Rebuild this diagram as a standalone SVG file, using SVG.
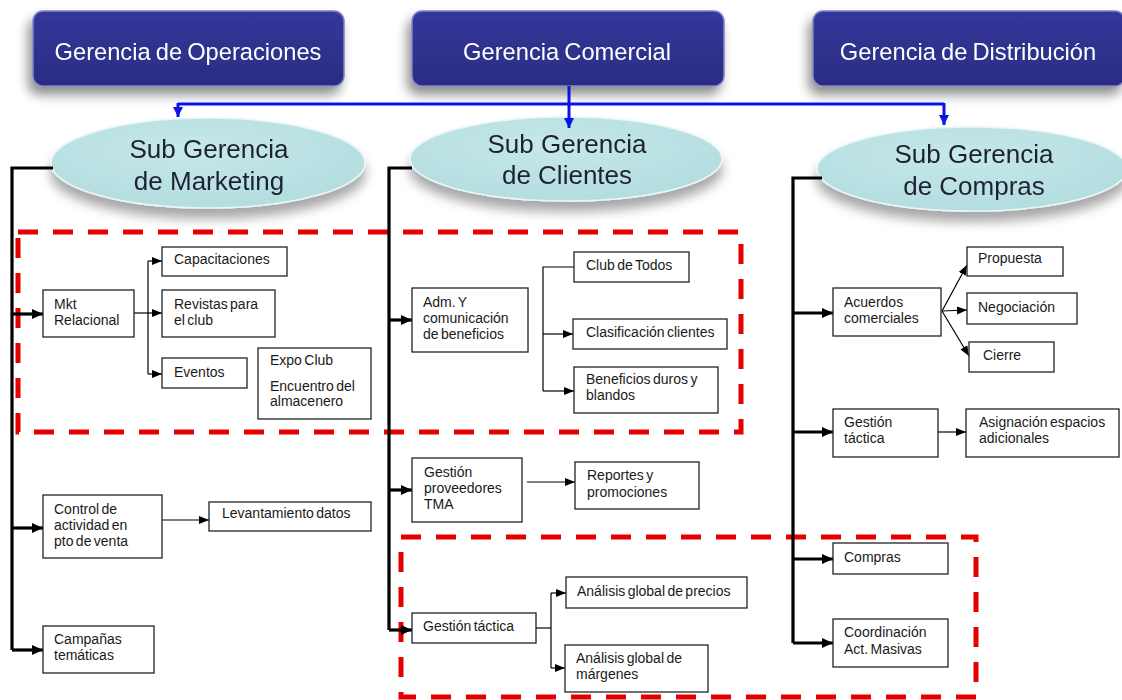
<svg xmlns="http://www.w3.org/2000/svg" width="1122" height="700" viewBox="0 0 1122 700">
<defs>
<style>
.gtext{font-family:"Liberation Sans",Arial,sans-serif;font-size:23.7px;fill:#ffffff;text-anchor:middle;word-spacing:-1.5px}
.etext{font-family:"Liberation Sans",Arial,sans-serif;font-size:26px;fill:#1e2230;text-anchor:middle}
.btext{font-family:"Liberation Sans",Arial,sans-serif;font-size:14px;fill:#1a1a1a;word-spacing:-1.5px}
.box{fill:#ffffff;stroke:#222222;stroke-width:1.3}
.thick{fill:none;stroke:#000000;stroke-width:3.2}
.thin{fill:none;stroke:#000000;stroke-width:1.2}
.blue{fill:none;stroke:#0a14e6;stroke-width:3}
.dash{fill:none;stroke:#e60000;stroke-width:5;stroke-dasharray:20 15}
.gbox{fill:url(#gradG);stroke:#7f83c8;stroke-width:1.5}
.ell{fill:url(#gradE);stroke:#e8f6f7;stroke-width:1.5}
</style>
<linearGradient id="gradG" x1="0" y1="0" x2="0" y2="1">
<stop offset="0" stop-color="#34389a"/>
<stop offset="1" stop-color="#2a2c82"/>
</linearGradient>
<radialGradient id="gradE" cx="0.45" cy="0.35" r="0.7">
<stop offset="0" stop-color="#c6e8ea"/>
<stop offset="1" stop-color="#b2dcdf"/>
</radialGradient>
<filter id="shadow" x="-20%" y="-30%" width="140%" height="170%">
<feGaussianBlur in="SourceAlpha" stdDeviation="6"/>
<feOffset dx="-4" dy="8" result="b"/>
<feComponentTransfer><feFuncA type="linear" slope="0.45"/></feComponentTransfer>
<feMerge><feMergeNode/><feMergeNode in="SourceGraphic"/></feMerge>
</filter>
<filter id="shadowE" x="-20%" y="-30%" width="140%" height="180%">
<feGaussianBlur in="SourceAlpha" stdDeviation="6"/>
<feOffset dx="0" dy="10" result="b"/>
<feComponentTransfer><feFuncA type="linear" slope="0.35"/></feComponentTransfer>
<feMerge><feMergeNode/><feMergeNode in="SourceGraphic"/></feMerge>
</filter>
<marker id="ahThick" markerUnits="userSpaceOnUse" markerWidth="12" markerHeight="12" refX="11" refY="6" orient="auto">
<path d="M0,1 L11,6 L0,11 z" fill="#000"/>
</marker>
<marker id="ahThin" markerUnits="userSpaceOnUse" markerWidth="10" markerHeight="10" refX="10" refY="5" orient="auto">
<path d="M0,1 L10,5 L0,9 z" fill="#000"/>
</marker>
<marker id="ahBlue" markerUnits="userSpaceOnUse" markerWidth="12" markerHeight="12" refX="10" refY="6" orient="auto">
<path d="M0,1 L10,6 L0,11 z" fill="#0a14e6"/>
</marker>
</defs>
<rect x="0" y="0" width="1122" height="700" fill="#ffffff"/>

<!-- dashed highlight regions -->
<g id="regions">
<rect class="dash" x="18" y="232" width="723" height="200"/>
<rect class="dash" x="401" y="537" width="575" height="160"/>
</g>

<!-- top level -->
<g id="g-operaciones" filter="url(#shadow)">
<rect class="gbox" x="33" y="11" width="311" height="75" rx="10"/>
<text class="gtext" x="188" y="60">Gerencia de Operaciones</text>
</g>
<g id="g-comercial" filter="url(#shadow)">
<rect class="gbox" x="412" y="11" width="312" height="75" rx="10"/>
<text class="gtext" x="567" y="60">Gerencia Comercial</text>
</g>
<g id="g-distribucion" filter="url(#shadow)">
<rect class="gbox" x="813" y="11" width="312" height="75" rx="10"/>
<text class="gtext" x="968" y="60">Gerencia de Distribución</text>
</g>

<!-- ellipses -->
<g id="sg-marketing" filter="url(#shadowE)">
<ellipse class="ell" cx="208" cy="163" rx="157" ry="45"/>
<text class="etext" x="209" y="158">Sub Gerencia</text>
<text class="etext" x="209" y="190">de Marketing</text>
</g>
<g id="sg-clientes" filter="url(#shadowE)">
<ellipse class="ell" cx="566" cy="159" rx="156" ry="42"/>
<text class="etext" x="567" y="153">Sub Gerencia</text>
<text class="etext" x="567" y="184">de Clientes</text>
</g>
<g id="sg-compras" filter="url(#shadowE)">
<ellipse class="ell" cx="972" cy="169" rx="155" ry="42"/>
<text class="etext" x="974" y="163">Sub Gerencia</text>
<text class="etext" x="974" y="195">de Compras</text>
</g>

<!-- connectors -->
<g id="connectors">
<path class="blue" d="M178,104 H944"/>
<path class="blue" d="M569,86 V128" marker-end="url(#ahBlue)"/>
<path class="blue" d="M178,103 V117" marker-end="url(#ahBlue)"/>
<path class="blue" d="M944,103 V125" marker-end="url(#ahBlue)"/>
<path class="thick" d="M53,168 H12 V650"/>
<path class="thick" d="M12,314 H43" marker-end="url(#ahThick)"/>
<path class="thick" d="M12,528 H43" marker-end="url(#ahThick)"/>
<path class="thick" d="M12,650 H43" marker-end="url(#ahThick)"/>
<path class="thin" d="M134,313 H148"/>
<path class="thin" d="M148,261 V374"/>
<path class="thin" d="M148,261 H162" marker-end="url(#ahThin)"/>
<path class="thin" d="M148,313 H162" marker-end="url(#ahThin)"/>
<path class="thin" d="M148,374 H162" marker-end="url(#ahThin)"/>
<path class="thin" d="M162,520 H209" marker-end="url(#ahThin)"/>
<path class="thick" d="M412,168 H389 V630"/>
<path class="thick" d="M389,320 H412" marker-end="url(#ahThick)"/>
<path class="thick" d="M389,490 H412" marker-end="url(#ahThick)"/>
<path class="thick" d="M389,630 H412" marker-end="url(#ahThick)"/>
<path class="thin" d="M574,267 H543 V391"/>
<path class="thin" d="M543,334 H573" marker-end="url(#ahThin)"/>
<path class="thin" d="M543,391 H574" marker-end="url(#ahThin)"/>
<path class="thin" d="M527,482 H575" marker-end="url(#ahThin)"/>
<path class="thin" d="M536,628 H551"/>
<path class="thin" d="M551,593 V668"/>
<path class="thin" d="M551,593 H566" marker-end="url(#ahThin)"/>
<path class="thin" d="M551,668 H565" marker-end="url(#ahThin)"/>
<path class="thick" d="M822,178 H793 V643"/>
<path class="thick" d="M793,313 H833" marker-end="url(#ahThick)"/>
<path class="thick" d="M793,432 H833" marker-end="url(#ahThick)"/>
<path class="thick" d="M793,559 H833" marker-end="url(#ahThick)"/>
<path class="thick" d="M793,643 H833" marker-end="url(#ahThick)"/>
<path class="thin" d="M942,311 L967,265" marker-end="url(#ahThin)"/>
<path class="thin" d="M942,311 L967,310" marker-end="url(#ahThin)"/>
<path class="thin" d="M942,311 L969,356" marker-end="url(#ahThin)"/>
<path class="thin" d="M938,432 H966" marker-end="url(#ahThin)"/>
</g>

<!-- Marketing nodes -->
<g id="n-mkt-relacional">
<rect class="box" x="43" y="290" width="91" height="47"/>
<text class="btext" x="54" y="309">Mkt</text>
<text class="btext" x="54" y="325">Relacional</text>
</g>
<g id="n-capacitaciones">
<rect class="box" x="162" y="247" width="125" height="29"/>
<text class="btext" x="174" y="264">Capacitaciones</text>
</g>
<g id="n-revistas">
<rect class="box" x="162" y="290" width="113" height="47"/>
<text class="btext" x="174" y="309">Revistas para</text>
<text class="btext" x="174" y="325">el club</text>
</g>
<g id="n-eventos">
<rect class="box" x="162" y="358" width="85" height="30"/>
<text class="btext" x="174" y="377">Eventos</text>
</g>
<g id="n-expo">
<rect class="box" x="258" y="348" width="113" height="71"/>
<text class="btext" x="270" y="365">Expo Club</text>
<text class="btext" x="270" y="391">Encuentro del</text>
<text class="btext" x="270" y="406">almacenero</text>
</g>
<g id="n-control">
<rect class="box" x="43" y="495" width="119" height="63"/>
<text class="btext" x="54" y="514">Control de</text>
<text class="btext" x="54" y="530">actividad en</text>
<text class="btext" x="54" y="546">pto de venta</text>
</g>
<g id="n-levantamiento">
<rect class="box" x="209" y="502" width="162" height="29"/>
<text class="btext" x="222" y="518">Levantamiento datos</text>
</g>
<g id="n-campanas">
<rect class="box" x="43" y="626" width="111" height="47"/>
<text class="btext" x="54" y="644">Campañas</text>
<text class="btext" x="54" y="660">temáticas</text>
</g>

<!-- Clientes nodes -->
<g id="n-adm">
<rect class="box" x="412" y="288" width="116" height="64"/>
<text class="btext" x="423" y="307">Adm. Y</text>
<text class="btext" x="423" y="323">comunicación</text>
<text class="btext" x="423" y="339">de beneficios</text>
</g>
<g id="n-club">
<rect class="box" x="574" y="252" width="115" height="30"/>
<text class="btext" x="586" y="270">Club de Todos</text>
</g>
<g id="n-clasificacion">
<rect class="box" x="573" y="319" width="154" height="30"/>
<text class="btext" x="586" y="337">Clasificación clientes</text>
</g>
<g id="n-beneficios">
<rect class="box" x="574" y="367" width="144" height="46"/>
<text class="btext" x="586" y="384">Beneficios duros y</text>
<text class="btext" x="586" y="400">blandos</text>
</g>
<g id="n-proveedores">
<rect class="box" x="412" y="458" width="110" height="64"/>
<text class="btext" x="424" y="477">Gestión</text>
<text class="btext" x="424" y="493">proveedores</text>
<text class="btext" x="424" y="509">TMA</text>
</g>
<g id="n-reportes">
<rect class="box" x="575" y="462" width="124" height="47"/>
<text class="btext" x="587" y="480">Reportes y</text>
<text class="btext" x="587" y="497">promociones</text>
</g>
<g id="n-gtactica-cli">
<rect class="box" x="412" y="613" width="124" height="30"/>
<text class="btext" x="423" y="631">Gestión táctica</text>
</g>
<g id="n-precios">
<rect class="box" x="566" y="577" width="181" height="31"/>
<text class="btext" x="577" y="596">Análisis global de precios</text>
</g>
<g id="n-margenes">
<rect class="box" x="565" y="645" width="143" height="47"/>
<text class="btext" x="576" y="663">Análisis global de</text>
<text class="btext" x="576" y="679">márgenes</text>
</g>

<!-- Compras nodes -->
<g id="n-acuerdos">
<rect class="box" x="833" y="288" width="108" height="48"/>
<text class="btext" x="844" y="307">Acuerdos</text>
<text class="btext" x="844" y="323">comerciales</text>
</g>
<g id="n-propuesta">
<rect class="box" x="967" y="247" width="96" height="29"/>
<text class="btext" x="978" y="263">Propuesta</text>
</g>
<g id="n-negociacion">
<rect class="box" x="967" y="293" width="110" height="31"/>
<text class="btext" x="978" y="312">Negociación</text>
</g>
<g id="n-cierre">
<rect class="box" x="969" y="342" width="85" height="30"/>
<text class="btext" x="983" y="360">Cierre</text>
</g>
<g id="n-gtactica-com">
<rect class="box" x="833" y="409" width="105" height="48"/>
<text class="btext" x="844" y="427">Gestión</text>
<text class="btext" x="844" y="443">táctica</text>
</g>
<g id="n-asignacion">
<rect class="box" x="966" y="409" width="153" height="48"/>
<text class="btext" x="979" y="427">Asignación espacios</text>
<text class="btext" x="979" y="443">adicionales</text>
</g>
<g id="n-compras">
<rect class="box" x="833" y="543" width="115" height="31"/>
<text class="btext" x="844" y="562">Compras</text>
</g>
<g id="n-coordinacion">
<rect class="box" x="833" y="619" width="115" height="48"/>
<text class="btext" x="844" y="637">Coordinación</text>
<text class="btext" x="844" y="654">Act. Masivas</text>
</g>
</svg>
